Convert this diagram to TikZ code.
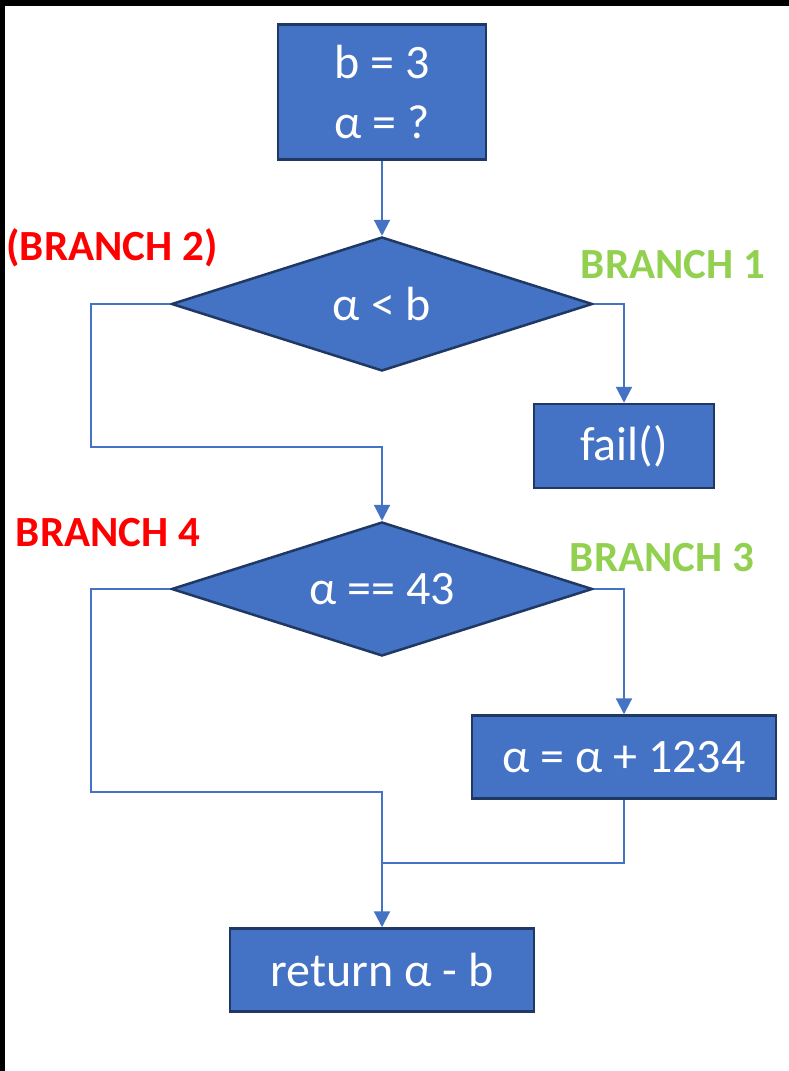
\documentclass[tikz,border=0pt]{standalone}
\usepackage{fontspec}
\setmainfont{Carlito}
\usetikzlibrary{shapes.geometric,arrows.meta,positioning,calc}
\definecolor{boxblue}{HTML}{4472C4}
\definecolor{boxedge}{HTML}{1F3864}
\definecolor{okgreen}{HTML}{92D050}
\definecolor{badred}{HTML}{FF0000}

\tikzset{
  stmt/.style={draw=boxedge, fill=boxblue, line width=2.5pt, text=white,
    inner sep=0pt, font=\fontsize{48}{60}\selectfont},
  cond/.style={diamond, aspect=3.14, draw=boxedge, fill=boxblue, line width=2.5pt, text=white,
    inner sep=0pt, minimum width=421pt, minimum height=134pt,
    font=\fontsize{48}{60}\selectfont},
  flow/.style={draw=boxblue, line width=2.2pt},
  arr/.style={flow, -{Triangle[width=16pt,length=16pt]}},
  okbranch/.style={text=okgreen, font=\bfseries\fontsize{43}{50}\selectfont},
  badbranch/.style={text=badred, font=\bfseries\fontsize{43}{50}\selectfont}
}

\begin{document}
\begin{tikzpicture}[x=1pt,y=-1pt]
    \useasboundingbox (0,0) rectangle (789,1071);
    \fill[white] (0,0) rectangle (789,1071);
    \fill[black] (0,0) rectangle (789,6);
    \fill[black] (0,0) rectangle (5,1071);

    \node[stmt, minimum width=208pt, minimum height=135pt, align=center] (init) at (382,92) {b = 3\\α = ?};
    \node[cond] (c1) at (382,304) {α < b};
    \node[stmt, minimum width=180pt, minimum height=84pt] (fail) at (624,446) {fail()};
    \node[cond] (c2) at (382,589) {α == 43};
    \node[stmt, minimum width=304pt, minimum height=83pt] (upd) at (624,757) {α = α + 1234};
    \node[stmt, minimum width=304pt, minimum height=83pt] (ret) at (382,970) {return α - b};

    \coordinate (j1) at (91,447);
    \coordinate (j2) at (91,792);
    \coordinate (j3) at (382,863);

    \draw[arr] (init) -- (c1);
    \draw[arr] (c1.east) -| (fail.north);
    \draw[arr] (c1.west) -| (j1) -| (c2.north);
    \draw[arr] (c2.east) -| (upd.north);
    \draw[arr] (c2.west) -| (j2) -| (ret.north);
    \draw[flow] (upd.south) |- (j3);

    \node[badbranch] (b2) at (112,248) {(BRANCH 2)};
    \node[okbranch] (b1) at (673,265) {BRANCH 1};
    \node[badbranch] (b4) at (108,533) {BRANCH 4};
    \node[okbranch] (b3) at (662,558) {BRANCH 3};
\end{tikzpicture}
\end{document}
